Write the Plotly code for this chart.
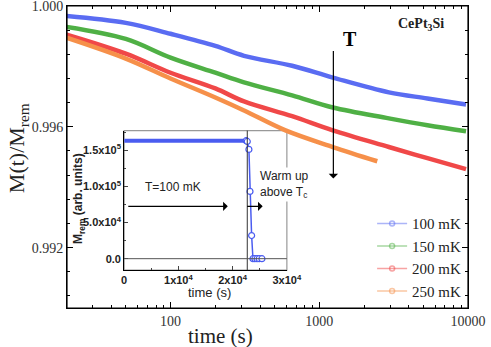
import plotly.graph_objects as go

# ---------------------------------------------------------------------------
# Datos
# ---------------------------------------------------------------------------
t_100 = [20, 50, 100, 200, 312, 657, 1233, 2938, 5335, 9700]
m_100 = [0.99967, 0.99944, 0.99908, 0.99868, 0.99835, 0.99802, 0.99763, 0.99714,
         0.99694, 0.99674]

t_150 = [20, 50, 100, 200, 312, 657, 1233, 2938, 5335, 9700]
m_150 = [0.99931, 0.99891, 0.99829, 0.99779, 0.99747, 0.99704, 0.99664, 0.99628,
         0.99605, 0.99585]

t_200 = [20, 50, 100, 200, 312, 657, 1233, 2938, 5335, 9700]
m_200 = [0.99905, 0.99842, 0.99779, 0.99727, 0.99684, 0.99635, 0.99588, 0.99533,
         0.99496, 0.99460]

t_250 = [20, 50, 100, 200, 312, 593, 1233, 2455]
m_250 = [0.99895, 0.99826, 0.99760, 0.99697, 0.99654, 0.99588, 0.99533, 0.99486]

labels = ["100 mK", "150 mK", "200 mK", "250 mK"]

# inset: M_rem vs tiempo
inset_t = [0, 4000, 8000, 12000, 16000, 20000, 22500, 22700, 23000, 23200,
           23500, 23750, 24100, 24500, 24900, 25400]
inset_m = [1.63e5, 1.63e5, 1.63e5, 1.63e5, 1.63e5, 1.63e5, 1.63e5, 1.62e5,
           1.51e5, 0.93e5, 0.32e5, 0, 0, 0, 0, 0]
T_WARM = 2.27e4

x_major = [100, 1000, 10000]
x_minor = [30, 40, 50, 60, 70, 80, 90, 200, 300, 400, 500, 600, 700, 800, 900,
           2000, 3000, 4000, 5000, 6000, 7000, 8000, 9000]
y_major = [0.992, 0.996, 1.000]

# ---------------------------------------------------------------------------
# Estilo
# ---------------------------------------------------------------------------
COLORS = ["#5a6cf2", "#4fb045", "#f04848", "#f6904a"]
LEG_COLORS = ["rgba(90,108,242,0.5)", "rgba(79,176,69,0.5)",
              "rgba(240,72,72,0.5)", "rgba(246,144,74,0.5)"]
SERIF = "Liberation Serif"
SANS = "Liberation Sans"

W, H = 491, 347
L, R, T, B = 67, 481, 5, 308


def px(x):
    return (x - L) / (R - L)


def py(y):
    return (B - y) / (B - T)


fig = go.Figure()

# gráfico principal en x2/y2, inset en x3/y3
series = [(t_100, m_100), (t_150, m_150), (t_200, m_200), (t_250, m_250)]
for (tt, mm), c, lc, name in zip(series, COLORS, LEG_COLORS, labels):
    fig.add_trace(go.Scatter(
        x=tt, y=mm, mode="lines", line=dict(color=c, width=4.5, shape="spline"),
        showlegend=False, xaxis="x2", yaxis="y2",
    ))
    fig.add_trace(go.Scatter(
        x=[None], y=[None], mode="lines+markers", name=name,
        line=dict(color=lc, width=1.5),
        marker=dict(symbol="circle-open", size=5, color=lc, line=dict(width=1.5)),
        xaxis="x2", yaxis="y2",
    ))

fig.add_trace(go.Scatter(
    x=inset_t[:7], y=inset_m[:7], mode="lines",
    line=dict(color="#4a5cf0", width=4), showlegend=False,
    xaxis="x3", yaxis="y3",
))
fig.add_trace(go.Scatter(
    x=inset_t[6:], y=inset_m[6:], mode="lines+markers",
    line=dict(color="#4a5cf0", width=1.5),
    marker=dict(symbol="circle", size=6, color="white",
                line=dict(color="#4a5cf0", width=1.2)),
    showlegend=False, xaxis="x3", yaxis="y3",
))

axis_common = dict(showline=True, linecolor="black", linewidth=1, mirror="ticks",
                   ticks="inside", ticklen=6, tickcolor="black",
                   showgrid=False, zeroline=False)

fig.update_layout(
    width=W, height=H,
    paper_bgcolor="white", plot_bgcolor="rgba(0,0,0,0)",
    margin=dict(l=L, r=W - R, t=T, b=H - B),
    font=dict(family=SERIF, color="#333"),
    xaxis2=dict(
        **axis_common, anchor="y2", domain=[0, 1], type="log", range=[1.304, 4.0],
        tickvals=x_major, ticktext=["100", "1000", "10000"],
        minor=dict(tickvals=x_minor, ticks="inside", ticklen=3, tickcolor="black"),
        tickfont=dict(family=SERIF, size=14, color="#333"),
    ),
    yaxis2=dict(
        **axis_common, anchor="x2", domain=[0, 1], range=[0.990, 1.000],
        tickvals=y_major, ticktext=["0.992", "0.996", "1.000"],
        ticklabeloverflow="allow", automargin=False,
        minor=dict(dtick=0.0008, tick0=0.992, ticks="inside", ticklen=3,
                   tickcolor="black"),
        tickfont=dict(family=SERIF, size=14, color="#333"),
    ),
    xaxis3=dict(
        domain=[px(126), px(294)], anchor="y3", range=[0, 3e4],
        showline=True, linecolor="black", linewidth=1, ticks="inside",
        ticklen=4, showgrid=False, zeroline=False,
        tickvals=[0, 1e4, 2e4, 3e4],
        ticktext=["0", "1x10<sup>4</sup>", "2x10<sup>4</sup>", "3x10<sup>4</sup>"],
        minor=dict(dtick=5e3, ticks="inside", ticklen=2),
        tickfont=dict(family=SANS, size=11, color="#222", weight="bold"),
    ),
    yaxis3=dict(
        domain=[py(270), py(130)], anchor="x3", range=[-1.58e4, 1.77e5],
        showline=True, linecolor="black", linewidth=1, ticks="inside",
        ticklen=4, showgrid=False, zeroline=False,
        tickvals=[0, 5e4, 1e5, 1.5e5],
        ticktext=["0.0", "5.0x10<sup>4</sup>", "1.0x10<sup>5</sup>", "1.5x10<sup>5</sup>"],
        minor=dict(dtick=2.5e4, ticks="inside", ticklen=2),
        tickfont=dict(family=SANS, size=11, color="#222", weight="bold"),
    ),
    legend=dict(
        x=px(382), y=py(207), xanchor="left", yanchor="top",
        bgcolor="rgba(0,0,0,0)", itemwidth=30,
        font=dict(family=SERIF, size=15, color="#222"),
        tracegroupgap=0,
    ),
)

# marco del gráfico principal
fig.add_shape(type="rect", xref="x2 domain", yref="y2 domain", x0=0, x1=1, y0=0, y1=1,
              line=dict(color="black", width=1.2), layer="above")
# caja gris del inset y líneas de referencia
fig.add_shape(type="rect", xref="x3 domain", yref="y3 domain", x0=0, x1=1, y0=0, y1=1,
              line=dict(color="#999", width=1.2), layer="below")
fig.add_shape(type="line", xref="x3", yref="y3 domain", x0=T_WARM, x1=T_WARM, y0=0, y1=1,
              line=dict(color="#333", width=1))
fig.add_shape(type="line", xref="x3 domain", yref="y3", x0=0, x1=1, y0=0, y1=0,
              line=dict(color="#555", width=1))

ann = [
    # títulos ejes principales
    dict(text="M(t)/M<sub>rem</sub>", x=px(16), y=py(148), textangle=-90,
         font=dict(family=SERIF, size=22, color="#222")),
    dict(text="time (s)", x=px(225), y=py(336),
         font=dict(family=SERIF, size=21, color="#222")),
    # títulos inset
    dict(text="time (s)", x=px(214), y=py(292),
         font=dict(family=SANS, size=13, color="#222")),
    dict(text="M<sub>rem</sub> (arb. units)", x=px(80), y=py(198), textangle=-90,
         font=dict(family=SANS, size=12, color="#222", weight="bold")),
    # textos
    dict(text="T=100 mK", x=px(176), y=py(187),
         font=dict(family=SANS, size=12, color="#222")),
    dict(text="Warm up<br>above T<sub>c</sub>", x=px(292), y=py(184),
         align="left", bgcolor="white",
         font=dict(family=SANS, size=12, color="#222")),
    dict(text="<b>T</b>", x=px(359), y=py(38),
         font=dict(family=SERIF, size=20, color="black")),
    dict(text="<b>CePt<sub>3</sub>Si</b>", x=px(432), y=py(24),
         font=dict(family=SERIF, size=14, color="#222")),
]
for a in ann:
    a.update(xref="paper", yref="paper", showarrow=False,
             xanchor="center", yanchor="middle")
    fig.add_annotation(**a)

# flechas
arrows = [
    (233, 206, -101, 0),
    (269, 206, -17, 0),
    (342, 178, 0, -129),
]
for xh, yh, axp, ayp in arrows:
    fig.add_annotation(x=px(xh), y=py(yh), xref="paper", yref="paper", text="",
                       showarrow=True, ax=axp, ay=ayp, arrowhead=1, arrowsize=1.3,
                       arrowwidth=1.2, arrowcolor="black")

fig.write_html("out.html", config={"displayModeBar": False},
               post_script="document.body.style.margin='0';")
